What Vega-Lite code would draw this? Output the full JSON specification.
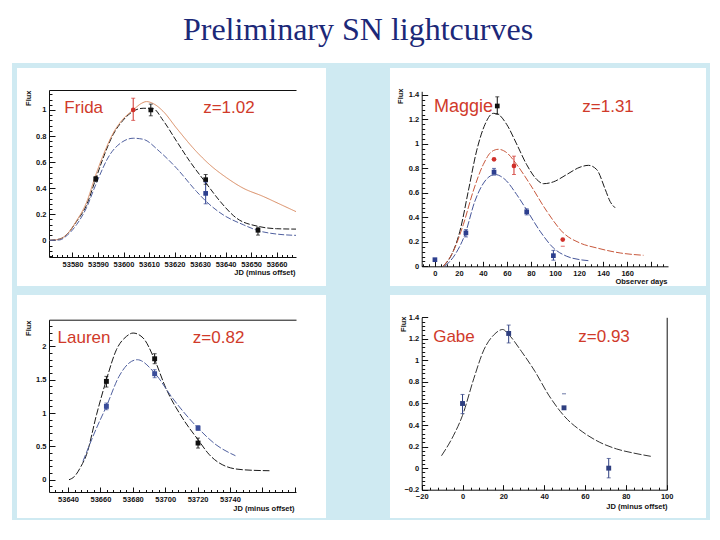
{
  "$schema": "https://vega.github.io/schema/vega-lite/v6.json",
  "background": "white",
  "padding": {"left": 12, "right": 10, "top": 14, "bottom": 18},
  "title": {"text": "Preliminary SN lightcurves", "font": "Liberation Serif", "fontSize": 32, "fontWeight": "normal", "color": "#1c2878", "anchor": "middle", "offset": 16, "dx": -3},
  "config": {
    "view": {"stroke": null},
    "concat": {"spacing": 0},
    "axis": {"grid": false, "labelFont": "Liberation Sans", "labelFontSize": 7.5, "labelFontWeight": "bold", "labelColor": "#111111", "titleFont": "Liberation Sans", "titleFontSize": 7.5, "titleFontWeight": "bold", "titleColor": "#111111", "domainColor": "#111111", "tickColor": "#111111", "labelOverlap": false, "labelFlush": false, "labelBound": false},
    "text": {"font": "Liberation Sans"}
  },
  "datasets": {
    "frida_c": [
      {"band": "black", "t": 53571, "flux": 0}, {"band": "black", "t": 53575, "flux": 0.01}, {"band": "black", "t": 53578, "flux": 0.05}, {"band": "black", "t": 53581.6, "flux": 0.145}, {"band": "black", "t": 53585.5, "flux": 0.27}, {"band": "black", "t": 53589.1, "flux": 0.47}, {"band": "black", "t": 53592, "flux": 0.63}, {"band": "black", "t": 53595.9, "flux": 0.81}, {"band": "black", "t": 53599.8, "flux": 0.92}, {"band": "black", "t": 53603.8, "flux": 0.99}, {"band": "black", "t": 53607.7, "flux": 1.013}, {"band": "black", "t": 53611.6, "flux": 1.01}, {"band": "black", "t": 53615.5, "flux": 0.92}, {"band": "black", "t": 53620.8, "flux": 0.76}, {"band": "black", "t": 53626, "flux": 0.605}, {"band": "black", "t": 53632.3, "flux": 0.44}, {"band": "black", "t": 53637.8, "flux": 0.3}, {"band": "black", "t": 53644.3, "flux": 0.17}, {"band": "black", "t": 53652.8, "flux": 0.107}, {"band": "black", "t": 53660, "flux": 0.089}, {"band": "black", "t": 53667.6, "flux": 0.086},
      {"band": "red", "t": 53571, "flux": 0}, {"band": "red", "t": 53575, "flux": 0.01}, {"band": "red", "t": 53578, "flux": 0.05}, {"band": "red", "t": 53581.6, "flux": 0.15}, {"band": "red", "t": 53585.5, "flux": 0.29}, {"band": "red", "t": 53589.1, "flux": 0.5}, {"band": "red", "t": 53592, "flux": 0.65}, {"band": "red", "t": 53595.9, "flux": 0.82}, {"band": "red", "t": 53599.8, "flux": 0.93}, {"band": "red", "t": 53603.8, "flux": 1.0}, {"band": "red", "t": 53607, "flux": 1.05}, {"band": "red", "t": 53609, "flux": 1.064}, {"band": "red", "t": 53612, "flux": 1.045}, {"band": "red", "t": 53615.5, "flux": 0.99}, {"band": "red", "t": 53620.8, "flux": 0.86}, {"band": "red", "t": 53628.6, "flux": 0.68}, {"band": "red", "t": 53633.8, "flux": 0.58}, {"band": "red", "t": 53640.4, "flux": 0.48}, {"band": "red", "t": 53646.9, "flux": 0.4}, {"band": "red", "t": 53654.7, "flux": 0.337}, {"band": "red", "t": 53661, "flux": 0.28}, {"band": "red", "t": 53667.6, "flux": 0.22},
      {"band": "blue", "t": 53571, "flux": 0}, {"band": "blue", "t": 53575, "flux": 0.003}, {"band": "blue", "t": 53578, "flux": 0.04}, {"band": "blue", "t": 53581.6, "flux": 0.12}, {"band": "blue", "t": 53585.5, "flux": 0.25}, {"band": "blue", "t": 53589.1, "flux": 0.426}, {"band": "blue", "t": 53594.6, "flux": 0.655}, {"band": "blue", "t": 53599.8, "flux": 0.758}, {"band": "blue", "t": 53603.8, "flux": 0.783}, {"band": "blue", "t": 53607.7, "flux": 0.775}, {"band": "blue", "t": 53614.2, "flux": 0.68}, {"band": "blue", "t": 53620.8, "flux": 0.553}, {"band": "blue", "t": 53628.6, "flux": 0.375}, {"band": "blue", "t": 53632.3, "flux": 0.3}, {"band": "blue", "t": 53639, "flux": 0.196}, {"band": "blue", "t": 53646.9, "flux": 0.12}, {"band": "blue", "t": 53652.8, "flux": 0.074}, {"band": "blue", "t": 53660, "flux": 0.048}, {"band": "blue", "t": 53667.6, "flux": 0.038}
    ],
    "frida_p": [
      {"band": "black", "t": 53589.1, "flux": 0.47, "lo": 0.45, "hi": 0.49},
      {"band": "red", "t": 53603.8, "flux": 1.0, "lo": 0.92, "hi": 1.09},
      {"band": "black", "t": 53610.7, "flux": 1.0, "lo": 0.955, "hi": 1.045},
      {"band": "black", "t": 53632.2, "flux": 0.465, "lo": 0.43, "hi": 0.505},
      {"band": "blue", "t": 53632.2, "flux": 0.36, "lo": 0.28, "hi": 0.446},
      {"band": "black", "t": 53652.7, "flux": 0.077, "lo": 0.04, "hi": 0.1}
    ],
    "maggie_c": [
      {"band": "black", "t": 6.9, "flux": 0}, {"band": "black", "t": 13.9, "flux": 0.095}, {"band": "black", "t": 20.8, "flux": 0.287}, {"band": "black", "t": 27.8, "flux": 0.615}, {"band": "black", "t": 34.7, "flux": 0.943}, {"band": "black", "t": 41.7, "flux": 1.16}, {"band": "black", "t": 48.6, "flux": 1.25}, {"band": "black", "t": 52, "flux": 1.245}, {"band": "black", "t": 59.7, "flux": 1.16}, {"band": "black", "t": 68, "flux": 1.0}, {"band": "black", "t": 76.4, "flux": 0.83}, {"band": "black", "t": 84.7, "flux": 0.71}, {"band": "black", "t": 90.3, "flux": 0.675}, {"band": "black", "t": 98.6, "flux": 0.69}, {"band": "black", "t": 109.7, "flux": 0.75}, {"band": "black", "t": 120.8, "flux": 0.81}, {"band": "black", "t": 127.8, "flux": 0.825}, {"band": "black", "t": 134.7, "flux": 0.79}, {"band": "black", "t": 141.7, "flux": 0.63}, {"band": "black", "t": 145.8, "flux": 0.53}, {"band": "black", "t": 150, "flux": 0.478},
      {"band": "red", "t": 6.9, "flux": 0}, {"band": "red", "t": 15.3, "flux": 0.123}, {"band": "red", "t": 23.6, "flux": 0.34}, {"band": "red", "t": 31.9, "flux": 0.615}, {"band": "red", "t": 40.3, "flux": 0.833}, {"band": "red", "t": 47.2, "flux": 0.937}, {"band": "red", "t": 52.8, "flux": 0.956}, {"band": "red", "t": 59.7, "flux": 0.929}, {"band": "red", "t": 68, "flux": 0.833}, {"band": "red", "t": 79.2, "flux": 0.67}, {"band": "red", "t": 93.1, "flux": 0.45}, {"band": "red", "t": 106.9, "flux": 0.273}, {"band": "red", "t": 120.8, "flux": 0.19}, {"band": "red", "t": 134.7, "flux": 0.15}, {"band": "red", "t": 154.2, "flux": 0.109}, {"band": "red", "t": 173.6, "flux": 0.09},
      {"band": "blue", "t": 8.3, "flux": 0}, {"band": "blue", "t": 16.7, "flux": 0.095}, {"band": "blue", "t": 25, "flux": 0.26}, {"band": "blue", "t": 33.3, "flux": 0.533}, {"band": "blue", "t": 41.7, "flux": 0.697}, {"band": "blue", "t": 50, "flux": 0.75}, {"band": "blue", "t": 58.3, "flux": 0.71}, {"band": "blue", "t": 68, "flux": 0.587}, {"band": "blue", "t": 76.4, "flux": 0.46}, {"band": "blue", "t": 87.5, "flux": 0.287}, {"band": "blue", "t": 98.6, "flux": 0.15}, {"band": "blue", "t": 109.7, "flux": 0.082}, {"band": "blue", "t": 120.8, "flux": 0.054}, {"band": "blue", "t": 127.8, "flux": 0.046}
    ],
    "maggie_p": [
      {"band": "blue", "t": 0, "flux": 0.054, "lo": null, "hi": null},
      {"band": "blue", "t": 25.8, "flux": 0.273, "lo": 0.24, "hi": 0.3},
      {"band": "blue", "t": 49.2, "flux": 0.77, "lo": 0.745, "hi": 0.8},
      {"band": "blue", "t": 76.4, "flux": 0.445, "lo": 0.42, "hi": 0.47},
      {"band": "blue", "t": 98.6, "flux": 0.087, "lo": 0.05, "hi": 0.13},
      {"band": "black", "t": 51.9, "flux": 1.31, "lo": 1.243, "hi": 1.385},
      {"band": "red", "t": 49.2, "flux": 0.874, "lo": null, "hi": null},
      {"band": "red", "t": 65.8, "flux": 0.82, "lo": 0.75, "hi": 0.9},
      {"band": "red", "t": 106.4, "flux": 0.218, "lo": 0.164, "hi": null}
    ],
    "lauren_c": [
      {"band": "black", "t": 53640.6, "flux": 0}, {"band": "black", "t": 53644, "flux": 0.05}, {"band": "black", "t": 53648, "flux": 0.2}, {"band": "black", "t": 53651.4, "flux": 0.375}, {"band": "black", "t": 53657.6, "flux": 0.975}, {"band": "black", "t": 53663.7, "flux": 1.5}, {"band": "black", "t": 53669.9, "flux": 1.95}, {"band": "black", "t": 53676.1, "flux": 2.15}, {"band": "black", "t": 53680.2, "flux": 2.2}, {"band": "black", "t": 53686.4, "flux": 2.125}, {"band": "black", "t": 53693.5, "flux": 1.8}, {"band": "black", "t": 53700.4, "flux": 1.375}, {"band": "black", "t": 53710.7, "flux": 0.925}, {"band": "black", "t": 53720.3, "flux": 0.6}, {"band": "black", "t": 53727.3, "flux": 0.375}, {"band": "black", "t": 53737.6, "flux": 0.2}, {"band": "black", "t": 53747.9, "flux": 0.15}, {"band": "black", "t": 53764.4, "flux": 0.135},
      {"band": "blue", "t": 53649.2, "flux": 0.275}, {"band": "blue", "t": 53657.6, "flux": 0.775}, {"band": "blue", "t": 53663.7, "flux": 1.1}, {"band": "blue", "t": 53671.5, "flux": 1.55}, {"band": "blue", "t": 53677.7, "flux": 1.75}, {"band": "blue", "t": 53682.8, "flux": 1.8}, {"band": "blue", "t": 53693.5, "flux": 1.6}, {"band": "blue", "t": 53704.5, "flux": 1.225}, {"band": "blue", "t": 53720.3, "flux": 0.775}, {"band": "blue", "t": 53731.4, "flux": 0.525}, {"band": "blue", "t": 53743.4, "flux": 0.36}
    ],
    "lauren_p": [
      {"band": "black", "t": 53663.7, "flux": 1.475, "lo": 1.39, "hi": 1.55},
      {"band": "blue", "t": 53663.7, "flux": 1.1, "lo": 1.05, "hi": 1.15},
      {"band": "black", "t": 53693.5, "flux": 1.814, "lo": 1.74, "hi": 1.89},
      {"band": "blue", "t": 53693.5, "flux": 1.59, "lo": 1.53, "hi": 1.65},
      {"band": "blue", "t": 53720.3, "flux": 0.775, "lo": 0.74, "hi": 0.81},
      {"band": "black", "t": 53720.3, "flux": 0.55, "lo": 0.475, "hi": 0.625}
    ],
    "gabe_c": [
      {"band": "black", "t": -10.3, "flux": 0.115}, {"band": "black", "t": -4.5, "flux": 0.3}, {"band": "black", "t": 0, "flux": 0.49}, {"band": "black", "t": 5.5, "flux": 0.83}, {"band": "black", "t": 10.5, "flux": 1.1}, {"band": "black", "t": 15.5, "flux": 1.24}, {"band": "black", "t": 19.7, "flux": 1.287}, {"band": "black", "t": 22.6, "flux": 1.24}, {"band": "black", "t": 28.8, "flux": 1.085}, {"band": "black", "t": 35.5, "flux": 0.897}, {"band": "black", "t": 42.2, "flux": 0.678}, {"band": "black", "t": 50.2, "flux": 0.475}, {"band": "black", "t": 58.9, "flux": 0.335}, {"band": "black", "t": 67.2, "flux": 0.24}, {"band": "black", "t": 75.5, "flux": 0.178}, {"band": "black", "t": 83.8, "flux": 0.14}, {"band": "black", "t": 92.2, "flux": 0.11}
    ],
    "gabe_p": [
      {"band": "blue", "t": 0, "flux": 0.6, "lo": 0.506, "hi": 0.684},
      {"band": "blue", "t": 22.6, "flux": 1.25, "lo": 1.162, "hi": 1.328},
      {"band": "blue", "t": 49.7, "flux": 0.56, "lo": null, "hi": 0.69},
      {"band": "blue", "t": 71.6, "flux": 0.0, "lo": -0.09, "hi": 0.09}
    ]
  },
  "spacing": 0,
  "vconcat": [
    {"width": 698, "height": 5, "data": {"values": []}, "mark": "point", "view": {"fill": "#cfeaf2", "stroke": null}},
    {
      "bounds": "flush",
      "spacing": 0,
      "hconcat": [
        {"width": 5, "height": 218, "data": {"values": []}, "mark": "point", "view": {"fill": "#cfeaf2", "stroke": null}},
        {
          "width": 309, "height": 218,
          "view": {"fill": "white", "stroke": null},
          "resolve": {"axis": {"x": "independent", "y": "independent"}, "scale": {"color": "independent"}},
          "layer": [
            {
              "data": {"name": "frida_c"},
              "mark": {"type": "line", "strokeWidth": 1, "interpolate": "monotone"},
              "encoding": {
                "x": {"field": "t", "type": "quantitative",
                  "scale": {"domain": [53570.8, 53667.6], "range": [32, 279], "nice": false, "zero": false},
                  "axis": {"values": [53580, 53590, 53600, 53610, 53620, 53630, 53640, 53650, 53660], "format": "d", "ticks": false, "labelPadding": 3, "offset": -29, "title": "JD (minus offset)", "titleX": 278, "titleY": 15, "titleAlign": "right", "titleBaseline": "middle"}},
                "y": {"field": "flux", "type": "quantitative",
                  "scale": {"domain": [-0.128, 1.153], "range": [189, 22], "nice": false, "zero": false},
                  "axis": {"values": [0, 0.2, 0.4, 0.6, 0.8, 1], "format": "~g", "ticks": false, "labelPadding": 3, "offset": -32, "title": "Flux", "titleX": -21, "titleY": 22, "titleAngle": -90, "titleAlign": "right", "titleBaseline": "middle"}},
                "color": {"field": "band", "type": "nominal", "scale": {"domain": ["black", "blue", "red"], "range": ["#1a1a1a", "#50609f", "#d98a60"]}, "legend": null},
                "strokeDash": {"field": "band", "type": "nominal", "scale": {"domain": ["black", "blue", "red"], "range": [[6, 2], [6, 2], [1, 0]]}, "legend": null}
              }
            },
            {
              "data": {"name": "frida_p"},
              "mark": {"type": "point", "filled": true, "size": 22, "opacity": 1},
              "encoding": {
                "x": {"field": "t", "type": "quantitative", "axis": {"orient": "bottom", "values": [53580, 53590, 53600, 53610, 53620, 53630, 53640, 53650, 53660], "labels": false, "domain": false, "tickSize": -5, "title": null, "offset": -29}},
                "y": {"field": "flux", "type": "quantitative", "axis": {"orient": "left", "values": [-0.12, -0.08, -0.04, 0, 0.04, 0.08, 0.12, 0.16, 0.2, 0.24, 0.28, 0.32, 0.36, 0.4, 0.44, 0.48, 0.52, 0.56, 0.6, 0.64, 0.68, 0.72, 0.76, 0.8, 0.84, 0.88, 0.92, 0.96, 1, 1.04, 1.08, 1.12], "labels": false, "domain": false, "tickSize": -3, "title": null, "offset": -32}},
                "color": {"field": "band", "type": "nominal", "scale": {"domain": ["black", "blue", "red"], "range": ["#111111", "#2d3f8f", "#d0302a"]}, "legend": null},
                "shape": {"field": "band", "type": "nominal", "scale": {"domain": ["black", "blue", "red"], "range": ["square", "square", "circle"]}, "legend": null}
              }
            },
            {
              "data": {"name": "frida_p"},
              "transform": [{"filter": "isValid(datum.lo) && isValid(datum.hi)"}],
              "mark": {"type": "rule", "strokeWidth": 1},
              "encoding": {
                "x": {"field": "t", "type": "quantitative", "axis": {"orient": "bottom", "values": [53572, 53574, 53576, 53578, 53580, 53582, 53584, 53586, 53588, 53590, 53592, 53594, 53596, 53598, 53600, 53602, 53604, 53606, 53608, 53610, 53612, 53614, 53616, 53618, 53620, 53622, 53624, 53626, 53628, 53630, 53632, 53634, 53636, 53638, 53640, 53642, 53644, 53646, 53648, 53650, 53652, 53654, 53656, 53658, 53660, 53662, 53664, 53666], "labels": false, "domain": false, "tickSize": -2.5, "title": null, "offset": -29}},
                "y": {"field": "lo", "type": "quantitative", "axis": null},
                "y2": {"field": "hi"},
                "color": {"field": "band", "type": "nominal", "scale": {"domain": ["black", "blue", "red"], "range": ["#111111", "#2d3f8f", "#d0302a"]}, "legend": null}
              }
            },
            {
              "data": {"name": "frida_p"},
              "transform": [{"fold": ["lo", "hi"], "as": ["end", "v"]}, {"filter": "isValid(datum.v)"}],
              "mark": {"type": "tick", "orient": "horizontal", "size": 4, "thickness": 1},
              "encoding": {
                "x": {"field": "t", "type": "quantitative", "axis": {"orient": "top", "ticks": false, "labels": false, "domain": true, "title": null, "offset": -22}},
                "y": {"field": "v", "type": "quantitative", "axis": {"orient": "left", "values": [0, 0.2, 0.4, 0.6, 0.8, 1], "labels": false, "domain": false, "tickSize": -6, "title": null, "offset": -32}},
                "color": {"field": "band", "type": "nominal", "scale": {"domain": ["black", "blue", "red"], "range": ["#111111", "#2d3f8f", "#d0302a"]}, "legend": null}
              }
            },
            {
              "data": {"values": [{}]},
              "mark": {"type": "text", "fontSize": 17, "color": "#d03a2a"},
              "encoding": {"x": {"datum": 53584.4, "type": "quantitative", "axis": null}, "y": {"datum": 1.013, "type": "quantitative", "axis": null}, "text": {"value": "Frida"}}
            },
            {
              "data": {"values": [{}]},
              "mark": {"type": "text", "fontSize": 17, "color": "#d03a2a"},
              "encoding": {"x": {"datum": 53641.3, "type": "quantitative", "axis": null}, "y": {"datum": 1.013, "type": "quantitative", "axis": null}, "text": {"value": "z=1.02"}}
            }
          ]
        },
        {"width": 64, "height": 218, "data": {"values": []}, "mark": "point", "view": {"fill": "#cfeaf2", "stroke": null}},
        {
          "width": 316, "height": 218,
          "view": {"fill": "white", "stroke": null},
          "resolve": {"axis": {"x": "independent", "y": "independent"}, "scale": {"color": "independent"}},
          "layer": [
            {
              "data": {"name": "maggie_c"},
              "mark": {"type": "line", "strokeWidth": 1, "interpolate": "monotone", "strokeDash": [7, 2]},
              "encoding": {
                "x": {"field": "t", "type": "quantitative",
                  "scale": {"domain": [-11, 194], "range": [31.7, 278], "nice": false, "zero": false},
                  "axis": {"values": [0, 20, 40, 60, 80, 100, 120, 140, 160], "format": "d", "ticks": false, "labelPadding": 3, "offset": -19.7, "title": "Observer days", "titleX": 277, "titleY": 15, "titleAlign": "right", "titleBaseline": "middle"}},
                "y": {"field": "flux", "type": "quantitative",
                  "scale": {"domain": [0, 1.43], "range": [198.3, 23.3], "nice": false, "zero": false},
                  "axis": {"values": [0, 0.2, 0.4, 0.6, 0.8, 1, 1.2, 1.4], "format": "~g", "ticks": false, "labelPadding": 3, "offset": -31.7, "title": "Flux", "titleX": -21.7, "titleY": 20, "titleAngle": -90, "titleAlign": "right", "titleBaseline": "middle"}},
                "color": {"field": "band", "type": "nominal", "scale": {"domain": ["black", "blue", "red"], "range": ["#1a1a1a", "#46569a", "#c8583c"]}, "legend": null}
              }
            },
            {
              "data": {"name": "maggie_p"},
              "mark": {"type": "point", "filled": true, "size": 22, "opacity": 1},
              "encoding": {
                "x": {"field": "t", "type": "quantitative", "axis": {"orient": "bottom", "values": [0, 20, 40, 60, 80, 100, 120, 140, 160, 180], "labels": false, "domain": false, "tickSize": -5, "title": null, "offset": -19.7}},
                "y": {"field": "flux", "type": "quantitative", "axis": {"orient": "left", "values": [0, 0.04, 0.08, 0.12, 0.16, 0.2, 0.24, 0.28, 0.32, 0.36, 0.4, 0.44, 0.48, 0.52, 0.56, 0.6, 0.64, 0.68, 0.72, 0.76, 0.8, 0.84, 0.88, 0.92, 0.96, 1, 1.04, 1.08, 1.12, 1.16, 1.2, 1.24, 1.28, 1.32, 1.36, 1.4], "labels": false, "domain": false, "tickSize": -3, "title": null, "offset": -31.7}},
                "color": {"field": "band", "type": "nominal", "scale": {"domain": ["black", "blue", "red"], "range": ["#111111", "#2d3f8f", "#d0302a"]}, "legend": null},
                "shape": {"field": "band", "type": "nominal", "scale": {"domain": ["black", "blue", "red"], "range": ["circle", "square", "circle"]}, "legend": null}
              }
            },
            {
              "data": {"name": "maggie_p"},
              "transform": [{"filter": "isValid(datum.lo) && isValid(datum.hi)"}],
              "mark": {"type": "rule", "strokeWidth": 1},
              "encoding": {
                "x": {"field": "t", "type": "quantitative", "axis": {"orient": "bottom", "values": [-10, -5, 0, 5, 10, 15, 20, 25, 30, 35, 40, 45, 50, 55, 60, 65, 70, 75, 80, 85, 90, 95, 100, 105, 110, 115, 120, 125, 130, 135, 140, 145, 150, 155, 160, 165, 170, 175, 180, 185, 190], "labels": false, "domain": false, "tickSize": -2.5, "title": null, "offset": -19.7}},
                "y": {"field": "lo", "type": "quantitative", "axis": null},
                "y2": {"field": "hi"},
                "color": {"field": "band", "type": "nominal", "scale": {"domain": ["black", "blue", "red"], "range": ["#111111", "#2d3f8f", "#d0302a"]}, "legend": null}
              }
            },
            {
              "data": {"name": "maggie_p"},
              "transform": [{"fold": ["lo", "hi"], "as": ["end", "v"]}, {"filter": "isValid(datum.v)"}],
              "mark": {"type": "tick", "orient": "horizontal", "size": 4, "thickness": 1},
              "encoding": {
                "x": {"field": "t", "type": "quantitative", "axis": null},
                "y": {"field": "v", "type": "quantitative", "axis": {"orient": "left", "values": [0, 0.2, 0.4, 0.6, 0.8, 1, 1.2, 1.4], "labels": false, "domain": false, "tickSize": -6, "title": null, "offset": -31.7}},
                "color": {"field": "band", "type": "nominal", "scale": {"domain": ["black", "blue", "red"], "range": ["#111111", "#2d3f8f", "#d0302a"]}, "legend": null}
              }
            },
            {
              "data": {"values": [{}]},
              "mark": {"type": "text", "fontSize": 18, "color": "#d03a2a"},
              "encoding": {"x": {"datum": 23.8, "type": "quantitative", "axis": null}, "y": {"datum": 1.302, "type": "quantitative", "axis": null}, "text": {"value": "Maggie"}}
            },
            {
              "data": {"values": [{}]},
              "mark": {"type": "text", "fontSize": 17, "color": "#d03a2a"},
              "encoding": {"x": {"datum": 144.1, "type": "quantitative", "axis": null}, "y": {"datum": 1.302, "type": "quantitative", "axis": null}, "text": {"value": "z=1.31"}}
            }
          ]
        },
        {"width": 4, "height": 218, "data": {"values": []}, "mark": "point", "view": {"fill": "#cfeaf2", "stroke": null}}
      ]
    },
    {"width": 698, "height": 9, "data": {"values": []}, "mark": "point", "view": {"fill": "#cfeaf2", "stroke": null}},
    {
      "bounds": "flush",
      "spacing": 0,
      "hconcat": [
        {"width": 5, "height": 223, "data": {"values": []}, "mark": "point", "view": {"fill": "#cfeaf2", "stroke": null}},
        {
          "width": 309, "height": 223,
          "view": {"fill": "white", "stroke": null},
          "resolve": {"axis": {"x": "independent", "y": "independent"}, "scale": {"color": "independent"}},
          "layer": [
            {
              "data": {"name": "lauren_c"},
              "mark": {"type": "line", "strokeWidth": 1, "interpolate": "monotone", "strokeDash": [7, 2]},
              "encoding": {
                "x": {"field": "t", "type": "quantitative",
                  "scale": {"domain": [53628.25, 53780.8], "range": [32, 279], "nice": false, "zero": false},
                  "axis": {"values": [53640, 53660, 53680, 53700, 53720, 53740], "format": "d", "ticks": false, "labelPadding": 3, "offset": -26, "title": "JD (minus offset)", "titleX": 277, "titleY": 16, "titleAlign": "right", "titleBaseline": "middle"}},
                "y": {"field": "flux", "type": "quantitative",
                  "scale": {"domain": [-0.184, 2.4], "range": [197, 24.7], "nice": false, "zero": false},
                  "axis": {"values": [0, 0.5, 1, 1.5, 2], "format": "~g", "ticks": false, "labelPadding": 3, "offset": -32, "title": "Flux", "titleX": -21, "titleY": 25, "titleAngle": -90, "titleAlign": "right", "titleBaseline": "middle"}},
                "color": {"field": "band", "type": "nominal", "scale": {"domain": ["black", "blue"], "range": ["#1a1a1a", "#50609f"]}, "legend": null}
              }
            },
            {
              "data": {"name": "lauren_p"},
              "mark": {"type": "point", "filled": true, "size": 24, "opacity": 1},
              "encoding": {
                "x": {"field": "t", "type": "quantitative", "axis": {"orient": "bottom", "values": [53640, 53660, 53680, 53700, 53720, 53740, 53760, 53780], "labels": false, "domain": false, "tickSize": -5, "title": null, "offset": -26}},
                "y": {"field": "flux", "type": "quantitative", "axis": {"orient": "left", "values": [-0.1, 0, 0.1, 0.2, 0.3, 0.4, 0.5, 0.6, 0.7, 0.8, 0.9, 1, 1.1, 1.2, 1.3, 1.4, 1.5, 1.6, 1.7, 1.8, 1.9, 2, 2.1, 2.2, 2.3], "labels": false, "domain": false, "tickSize": -3, "title": null, "offset": -32}},
                "color": {"field": "band", "type": "nominal", "scale": {"domain": ["black", "blue"], "range": ["#111111", "#3a4d9a"]}, "legend": null},
                "shape": {"field": "band", "type": "nominal", "scale": {"domain": ["black", "blue"], "range": ["square", "circle"]}, "legend": null}
              }
            },
            {
              "data": {"name": "lauren_p"},
              "mark": {"type": "rule", "strokeWidth": 1},
              "encoding": {
                "x": {"field": "t", "type": "quantitative", "axis": {"orient": "bottom", "values": [53632, 53636, 53640, 53644, 53648, 53652, 53656, 53660, 53664, 53668, 53672, 53676, 53680, 53684, 53688, 53692, 53696, 53700, 53704, 53708, 53712, 53716, 53720, 53724, 53728, 53732, 53736, 53740, 53744, 53748, 53752, 53756, 53760, 53764, 53768, 53772, 53776, 53780], "labels": false, "domain": false, "tickSize": -2.5, "title": null, "offset": -26}},
                "y": {"field": "lo", "type": "quantitative", "axis": {"orient": "left", "values": [0, 0.5, 1, 1.5, 2], "labels": false, "domain": false, "tickSize": -6, "title": null, "offset": -32}},
                "y2": {"field": "hi"},
                "color": {"field": "band", "type": "nominal", "scale": {"domain": ["black", "blue"], "range": ["#111111", "#3a4d9a"]}, "legend": null}
              }
            },
            {
              "data": {"name": "lauren_p"},
              "transform": [{"fold": ["lo", "hi"], "as": ["end", "v"]}],
              "mark": {"type": "tick", "orient": "horizontal", "size": 4, "thickness": 1},
              "encoding": {
                "x": {"field": "t", "type": "quantitative", "axis": {"orient": "top", "ticks": false, "labels": false, "domain": true, "title": null, "offset": -24.7}},
                "y": {"field": "v", "type": "quantitative", "axis": null},
                "color": {"field": "band", "type": "nominal", "scale": {"domain": ["black", "blue"], "range": ["#111111", "#3a4d9a"]}, "legend": null}
              }
            },
            {
              "data": {"values": [{}]},
              "mark": {"type": "text", "fontSize": 17, "color": "#d03a2a"},
              "encoding": {"x": {"datum": 53649.9, "type": "quantitative", "axis": null}, "y": {"datum": 2.125, "type": "quantitative", "axis": null}, "text": {"value": "Lauren"}}
            },
            {
              "data": {"values": [{}]},
              "mark": {"type": "text", "fontSize": 17, "color": "#d03a2a"},
              "encoding": {"x": {"datum": 53733, "type": "quantitative", "axis": null}, "y": {"datum": 2.125, "type": "quantitative", "axis": null}, "text": {"value": "z=0.82"}}
            }
          ]
        },
        {"width": 64, "height": 223, "data": {"values": []}, "mark": "point", "view": {"fill": "#cfeaf2", "stroke": null}},
        {
          "width": 316, "height": 218,
          "view": {"fill": "white", "stroke": null},
          "resolve": {"axis": {"x": "independent", "y": "independent"}, "scale": {"color": "independent"}},
          "layer": [
            {
              "data": {"name": "gabe_c"},
              "mark": {"type": "line", "strokeWidth": 1, "interpolate": "monotone", "strokeDash": [8, 2], "color": "#333333"},
              "encoding": {
                "x": {"field": "t", "type": "quantitative",
                  "scale": {"domain": [-20, 100], "range": [31.7, 276.7], "nice": false, "zero": false},
                  "axis": {"values": [-20, 0, 20, 40, 60, 80, 100], "format": "d", "ticks": false, "labelPadding": 3, "offset": -23.3, "title": "JD (minus offset)", "titleX": 277, "titleY": 16.3, "titleAlign": "right", "titleBaseline": "middle"}},
                "y": {"field": "flux", "type": "quantitative",
                  "scale": {"domain": [-0.2, 1.4], "range": [194.7, 22.3], "nice": false, "zero": false},
                  "axis": {"values": [-0.2, 0, 0.2, 0.4, 0.6, 0.8, 1, 1.2, 1.4], "format": "~g", "ticks": false, "labelPadding": 3, "offset": -31.7, "title": "Flux", "titleX": -18.7, "titleY": 21, "titleAngle": -90, "titleAlign": "right", "titleBaseline": "middle"}}
              }
            },
            {
              "data": {"name": "gabe_p"},
              "mark": {"type": "point", "filled": true, "size": 24, "opacity": 1, "shape": "square", "color": "#2f3f80"},
              "encoding": {
                "x": {"field": "t", "type": "quantitative", "axis": {"orient": "bottom", "values": [-20, 0, 20, 40, 60, 80, 100], "labels": false, "domain": false, "tickSize": -5, "title": null, "offset": -23.3}},
                "y": {"field": "flux", "type": "quantitative", "axis": {"orient": "left", "values": [-0.2, -0.16, -0.12, -0.08, -0.04, 0, 0.04, 0.08, 0.12, 0.16, 0.2, 0.24, 0.28, 0.32, 0.36, 0.4, 0.44, 0.48, 0.52, 0.56, 0.6, 0.64, 0.68, 0.72, 0.76, 0.8, 0.84, 0.88, 0.92, 0.96, 1, 1.04, 1.08, 1.12, 1.16, 1.2, 1.24, 1.28, 1.32, 1.36, 1.4], "labels": false, "domain": false, "tickSize": -3, "title": null, "offset": -31.7}}
              }
            },
            {
              "data": {"name": "gabe_p"},
              "transform": [{"filter": "isValid(datum.lo) && isValid(datum.hi)"}],
              "mark": {"type": "rule", "strokeWidth": 1, "color": "#2f3f80"},
              "encoding": {
                "x": {"field": "t", "type": "quantitative", "axis": {"orient": "bottom", "values": [-20, -16, -12, -8, -4, 0, 4, 8, 12, 16, 20, 24, 28, 32, 36, 40, 44, 48, 52, 56, 60, 64, 68, 72, 76, 80, 84, 88, 92, 96, 100], "labels": false, "domain": false, "tickSize": -2.5, "title": null, "offset": -23.3}},
                "y": {"field": "lo", "type": "quantitative", "axis": {"orient": "right", "ticks": false, "labels": false, "domain": true, "title": null, "offset": -39.3}},
                "y2": {"field": "hi"}
              }
            },
            {
              "data": {"name": "gabe_p"},
              "transform": [{"fold": ["lo", "hi"], "as": ["end", "v"]}, {"filter": "isValid(datum.v)"}],
              "mark": {"type": "tick", "orient": "horizontal", "size": 4, "thickness": 1, "color": "#2f3f80"},
              "encoding": {
                "x": {"field": "t", "type": "quantitative", "axis": null},
                "y": {"field": "v", "type": "quantitative", "axis": {"orient": "left", "values": [-0.2, 0, 0.2, 0.4, 0.6, 0.8, 1, 1.2, 1.4], "labels": false, "domain": false, "tickSize": -6, "title": null, "offset": -31.7}}
              }
            },
            {
              "data": {"values": [{}]},
              "mark": {"type": "text", "fontSize": 17, "color": "#d03a2a"},
              "encoding": {"x": {"datum": -4.2, "type": "quantitative", "axis": null}, "y": {"datum": 1.217, "type": "quantitative", "axis": null}, "text": {"value": "Gabe"}}
            },
            {
              "data": {"values": [{}]},
              "mark": {"type": "text", "fontSize": 17, "color": "#d03a2a"},
              "encoding": {"x": {"datum": 69.3, "type": "quantitative", "axis": null}, "y": {"datum": 1.217, "type": "quantitative", "axis": null}, "text": {"value": "z=0.93"}}
            }
          ]
        },
        {"width": 4, "height": 223, "data": {"values": []}, "mark": "point", "view": {"fill": "#cfeaf2", "stroke": null}}
      ]
    },
    {"width": 698, "height": 2, "data": {"values": []}, "mark": "point", "view": {"fill": "#cfeaf2", "stroke": null}}
  ]
}
